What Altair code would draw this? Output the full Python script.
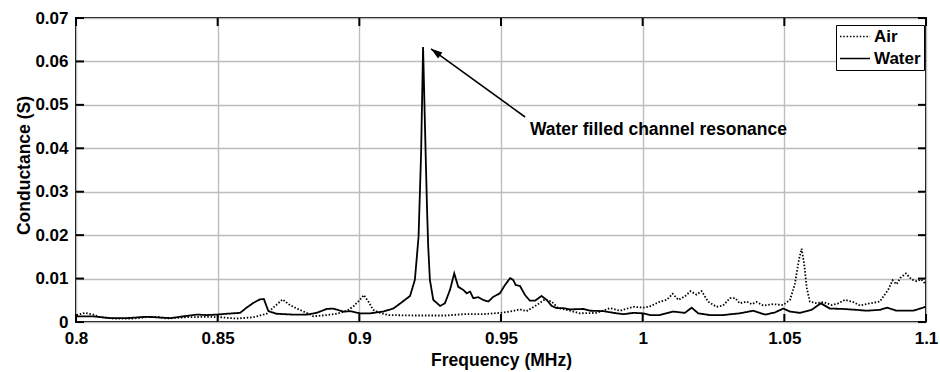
import altair as alt
import pandas as pd

# ---------------- data ----------------
series_names = ["Air", "Water"]

freq_air = [0.8002, 0.8032, 0.8061, 0.8085, 0.8132, 0.8202, 0.8261, 0.8285, 0.8320, 0.8391,
            0.8461, 0.8508, 0.8567, 0.8626, 0.8673, 0.8696, 0.8729, 0.8755, 0.8779, 0.8814,
            0.8838, 0.8885, 0.8920, 0.8955, 0.8979, 0.9002, 0.9016, 0.9032, 0.9049, 0.9073,
            0.9102, 0.9190, 0.9308, 0.9367, 0.9437, 0.9496, 0.9532, 0.9567, 0.9590, 0.9626,
            0.9655, 0.9679, 0.9702, 0.9743, 0.9779, 0.9838, 0.9885, 0.9920, 0.9967, 1.0002,
            1.0026, 1.0061, 1.0085, 1.0106, 1.0126, 1.0149, 1.0169, 1.0190, 1.0208, 1.0231,
            1.0261, 1.0284, 1.0308, 1.0326, 1.0343, 1.0367, 1.0385, 1.0402, 1.0426, 1.0461,
            1.0496, 1.0520, 1.0537, 1.0551, 1.0561, 1.0570, 1.0579, 1.0590, 1.0614, 1.0637,
            1.0667, 1.0690, 1.0714, 1.0743, 1.0767, 1.0802, 1.0837, 1.0867, 1.0882, 1.0896,
            1.0910, 1.0929, 1.0949, 1.0967, 1.0984, 1.0999]
cond_air = [0.0016, 0.0021, 0.0017, 0.0011, 0.0008, 0.0008, 0.0012, 0.0012, 0.0008, 0.0011,
            0.0012, 0.0011, 0.0008, 0.0011, 0.0019, 0.0033, 0.0052, 0.0039, 0.0031, 0.0021,
            0.0013, 0.0016, 0.0019, 0.0025, 0.0036, 0.0051, 0.0062, 0.0047, 0.0028, 0.0021,
            0.0016, 0.0015, 0.0015, 0.0018, 0.0018, 0.0021, 0.0024, 0.0029, 0.0025, 0.0039,
            0.0052, 0.0047, 0.0032, 0.0026, 0.0020, 0.0021, 0.0032, 0.0026, 0.0035, 0.0033,
            0.0036, 0.0047, 0.0051, 0.0065, 0.0051, 0.0059, 0.0071, 0.0063, 0.0071, 0.0047,
            0.0035, 0.0038, 0.0055, 0.0055, 0.0043, 0.0047, 0.0041, 0.0046, 0.0038, 0.0041,
            0.0039, 0.0051, 0.0087, 0.0142, 0.0169, 0.0134, 0.0079, 0.0047, 0.0043, 0.0046,
            0.0039, 0.0043, 0.0051, 0.0046, 0.0038, 0.0043, 0.0047, 0.0075, 0.0096, 0.0087,
            0.0102, 0.0112, 0.0098, 0.0094, 0.0098, 0.0087]

freq_water = [0.8002, 0.8061, 0.8120, 0.8179, 0.8250, 0.8332, 0.8391, 0.8426, 0.8461, 0.8497,
              0.8532, 0.8579, 0.8602, 0.8626, 0.8649, 0.8663, 0.8679, 0.8708, 0.8767, 0.8814,
              0.8849, 0.8885, 0.8908, 0.8943, 0.8967, 0.9002, 0.9038, 0.9084, 0.9120, 0.9149,
              0.9179, 0.9196, 0.9203, 0.9209, 0.9218, 0.9225, 0.9234, 0.9239, 0.9243, 0.9249,
              0.9261, 0.9285, 0.9302, 0.9320, 0.9335, 0.9349, 0.9367, 0.9379, 0.9391, 0.9402,
              0.9420, 0.9437, 0.9455, 0.9473, 0.9496, 0.9514, 0.9532, 0.9543, 0.9552, 0.9567,
              0.9585, 0.9602, 0.9620, 0.9643, 0.9661, 0.9679, 0.9696, 0.9720, 0.9743, 0.9790,
              0.9814, 0.9861, 0.9908, 0.9932, 0.9967, 1.0002, 1.0026, 1.0061, 1.0108, 1.0149,
              1.0173, 1.0196, 1.0237, 1.0284, 1.0343, 1.0390, 1.0432, 1.0467, 1.0496, 1.0520,
              1.0555, 1.0596, 1.0629, 1.0661, 1.0708, 1.0755, 1.0790, 1.0837, 1.0863, 1.0896,
              1.0955, 1.0999]
cond_water = [0.0013, 0.0013, 0.0009, 0.0009, 0.0012, 0.0009, 0.0014, 0.0017, 0.0016, 0.0017,
              0.0019, 0.0021, 0.0033, 0.0044, 0.0052, 0.0053, 0.0025, 0.0019, 0.0017, 0.0017,
              0.0021, 0.0030, 0.0031, 0.0024, 0.0025, 0.0020, 0.0020, 0.0024, 0.0031, 0.0045,
              0.0060, 0.0097, 0.0150, 0.0196, 0.0389, 0.0633, 0.0389, 0.0260, 0.0175, 0.0097,
              0.0051, 0.0037, 0.0043, 0.0074, 0.0112, 0.0081, 0.0074, 0.0066, 0.0070, 0.0055,
              0.0057, 0.0051, 0.0047, 0.0058, 0.0066, 0.0085, 0.0101, 0.0097, 0.0085, 0.0083,
              0.0062, 0.0049, 0.0049, 0.0060, 0.0051, 0.0037, 0.0032, 0.0032, 0.0029, 0.0030,
              0.0026, 0.0025, 0.0020, 0.0018, 0.0021, 0.0020, 0.0016, 0.0016, 0.0024, 0.0021,
              0.0033, 0.0020, 0.0016, 0.0016, 0.0020, 0.0026, 0.0017, 0.0022, 0.0031, 0.0024,
              0.0021, 0.0028, 0.0043, 0.0031, 0.0030, 0.0028, 0.0026, 0.0028, 0.0033, 0.0026,
              0.0026, 0.0035]

x_ticks = [0.8, 0.85, 0.9, 0.95, 1.0, 1.05, 1.1]
y_ticks = [0.0, 0.01, 0.02, 0.03, 0.04, 0.05, 0.06, 0.07]

annotation_text = "Water filled channel resonance"
annotation_freq = [0.9602]
annotation_cond = [0.0442]
arrow_tail_freq = [0.9585]
arrow_tail_cond = [0.0472]
arrow_tip_freq = [0.9253]
arrow_tip_cond = [0.0629]

# ---------------- tables ----------------
df = pd.concat([
    pd.DataFrame({"freq": freq_air, "cond": cond_air, "series": series_names[0]}),
    pd.DataFrame({"freq": freq_water, "cond": cond_water, "series": series_names[1]}),
], ignore_index=True)
xt = pd.DataFrame({"freq": x_ticks})
yt = pd.DataFrame({"cond": y_ticks})
ann = pd.DataFrame({"freq": annotation_freq, "cond": annotation_cond, "label": [annotation_text]})
arrow = pd.DataFrame({"freq": arrow_tail_freq, "cond": arrow_tail_cond,
                      "freq2": arrow_tip_freq, "cond2": arrow_tip_cond})
tip = pd.DataFrame({"freq": arrow_tip_freq, "cond": arrow_tip_cond})

FONT = "Liberation Sans"
W, H = 850, 304
TICK = 8

xs = alt.Scale(domain=[0.8, 1.1], nice=False, zero=False)
ys = alt.Scale(domain=[0.0, 0.07], nice=False)

lines = alt.Chart(df).mark_line(color="black", strokeWidth=1.8).encode(
    x=alt.X("freq:Q", scale=xs, title="Frequency (MHz)",
            axis=alt.Axis(values=x_ticks, format="~g", labelFlush=False, labelOverlap=False,
                          titleY=43.5, titleBaseline="alphabetic")),
    y=alt.Y("cond:Q", scale=ys, title="Conductance (S)",
            axis=alt.Axis(values=y_ticks, format="~g", labelOverlap=False,
                          titleX=-46.5, titleY=147, titleBaseline="alphabetic")),
    strokeDash=alt.StrokeDash(
        "series:N",
        scale=alt.Scale(domain=series_names, range=[[1.5, 1.8], [1, 0]]),
        legend=alt.Legend(title=None, orient="none", legendX=760, legendY=7,
                          symbolType="stroke", symbolSize=900, symbolStrokeWidth=1.6,
                          symbolStrokeColor="black", clipHeight=17,
                          labelFont=FONT, labelFontSize=17, labelFontWeight="bold",
                          labelColor="black", labelOffset=3, padding=3, rowPadding=4,
                          strokeColor="black", fillColor="white"),
    ),
    order=alt.Order("series:N"),
)

tick_style = dict(color="black", strokeWidth=2)
bottom_ticks = alt.Chart(xt).mark_rule(**tick_style).encode(
    x=alt.X("freq:Q", scale=xs), y=alt.value(H), y2=alt.value(H - TICK))
top_ticks = alt.Chart(xt).mark_rule(**tick_style).encode(
    x=alt.X("freq:Q", scale=xs), y=alt.value(0), y2=alt.value(TICK))
left_ticks = alt.Chart(yt).mark_rule(**tick_style).encode(
    y=alt.Y("cond:Q", scale=ys), x=alt.value(0), x2=alt.value(TICK))
right_ticks = alt.Chart(yt).mark_rule(**tick_style).encode(
    y=alt.Y("cond:Q", scale=ys), x=alt.value(W), x2=alt.value(W - TICK))

arrow_line = alt.Chart(arrow).mark_rule(color="black", strokeWidth=1.6).encode(
    x=alt.X("freq:Q", scale=xs), y=alt.Y("cond:Q", scale=ys),
    x2="freq2:Q", y2="cond2:Q")
arrow_head = alt.Chart(tip).mark_point(
    shape="M0,0L-0.32,1L0.32,1Z", filled=True, color="black", opacity=1,
    size=520, angle=306, strokeWidth=0).encode(
    x=alt.X("freq:Q", scale=xs), y=alt.Y("cond:Q", scale=ys))
ann_text = alt.Chart(ann).mark_text(
    align="left", baseline="middle", font=FONT, fontSize=17.5, fontWeight="bold",
    color="black").encode(
    x=alt.X("freq:Q", scale=xs), y=alt.Y("cond:Q", scale=ys), text="label:N")

chart = alt.layer(
    lines, bottom_ticks, top_ticks, left_ticks, right_ticks, arrow_line, arrow_head, ann_text
).properties(
    width=W, height=H,
    autosize=alt.AutoSizeParams(type="none"),
    padding={"left": 76, "top": 18, "right": 14, "bottom": 50},
    background="white",
).configure_view(
    stroke="black", strokeWidth=2
).configure_axis(
    grid=True, gridColor="#bdbdbd", gridWidth=1.4, domain=False, ticks=False, tickSize=0,
    labelFont=FONT, labelFontSize=17, labelFontWeight="bold", labelColor="black",
    labelPadding=8, titleFont=FONT, titleFontSize=17.5, titleFontWeight="bold",
    titleColor="black",
)

chart.save("out.html", embed_options={"renderer": "svg", "actions": False})
